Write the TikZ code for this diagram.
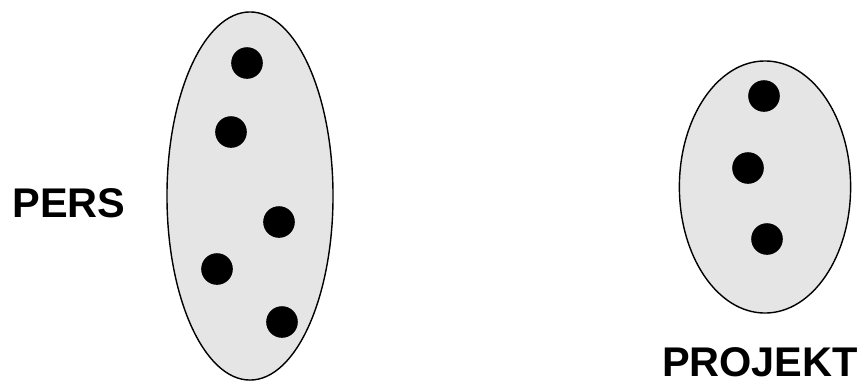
\documentclass[tikz,border=0pt]{standalone}
\usepackage{fontspec}
\setmainfont{Liberation Sans}
\usetikzlibrary{shapes.geometric}
\definecolor{setfill}{RGB}{229,229,229}
\tikzset{
  menge/.style={ellipse,draw=black,line width=1pt,fill=setfill,inner sep=0pt},
  elem/.style={circle,fill=black,minimum size=0.79cm,inner sep=0pt},
  mname/.style={font=\fontsize{29.5}{30}\selectfont\bfseries,inner sep=0pt,anchor=base},
}

\begin{document}
\begin{tikzpicture}[x=0.025cm,y=-0.025cm]
  \useasboundingbox (0,0) rectangle (864,383);
  \node[menge,minimum width=4.15cm,minimum height=9.2cm] (pers) at (250,196) {};
  \node[menge,minimum width=4.28cm,minimum height=6.3cm] (proj) at (765,187) {};
  % elements of PERS
  \node[elem] (p1) at (247,63) {};
  \node[elem] (p2) at (231,132) {};
  \node[elem] (p3) at (279,222) {};
  \node[elem] (p4) at (217,269) {};
  \node[elem] (p5) at (282,322) {};
  % elements of PROJEKT
  \node[elem] (j1) at (764,96) {};
  \node[elem] (j2) at (748,168) {};
  \node[elem] (j3) at (767,239) {};
  \node[mname] (lpers) at (69,217) {PERS};
  \node[mname] (lproj) at (760,376) {PROJEKT};
\end{tikzpicture}
\end{document}
